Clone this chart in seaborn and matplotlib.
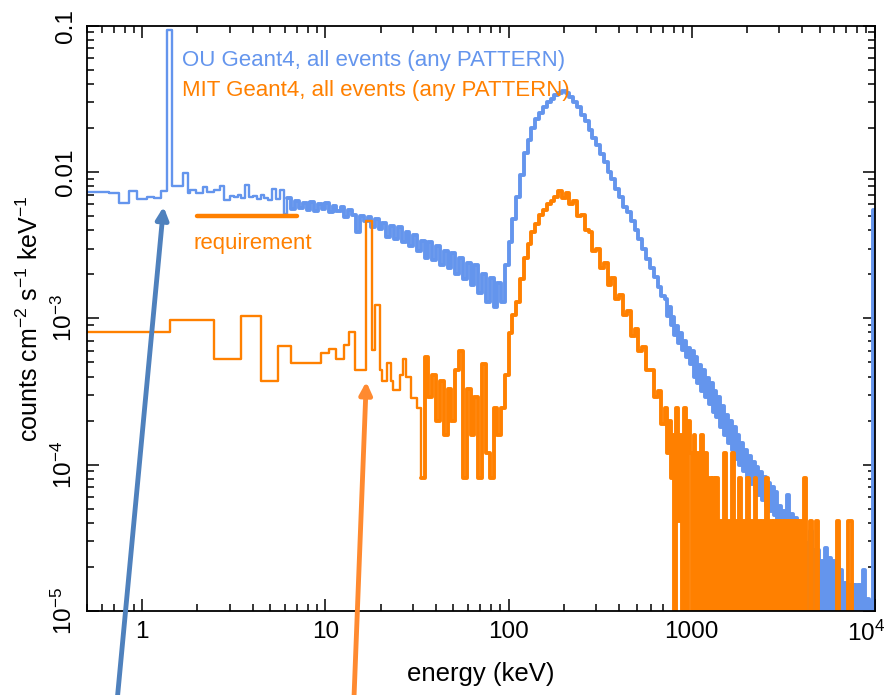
import numpy as np
import matplotlib
matplotlib.use("Agg")
import matplotlib.pyplot as plt
import matplotlib.transforms as mtransforms
import seaborn as sns

# OU Geant4 spectrum: wide low-energy bins (left edges, keV) and values
ou_low_e = [0.5, 0.656, 0.745, 0.845, 0.94, 1.065, 1.16, 1.26, 1.36, 1.46,
            1.66, 1.77, 1.83, 1.96, 2.14, 2.27, 2.48, 2.67, 2.81]
ou_low_v = [7.34e-3, 7.15e-3, 6.18e-3, 7.4e-3, 6.55e-3, 6.78e-3, 6.6e-3, 7.4e-3, 0.093, 8.0e-3,
            9.9e-3, 7.2e-3, 7.5e-3, 7.15e-3, 7.86e-3, 7.3e-3, 7.5e-3, 8.0e-3, 6.44e-3]

# medium energy grid, 3 - 715 keV (left bin edges)
grid_e = [3.01, 3.16, 3.32, 3.48, 3.65, 3.83, 4.02, 4.22, 4.43, 4.65, 4.88, 5.12, 5.37,
          5.64, 5.92, 6.21, 6.52, 6.84, 7.18, 7.53, 7.90, 8.29, 8.70, 9.13, 9.58,
          10.0, 10.5, 11.0, 11.5, 12.1, 12.7, 13.3, 14.0, 14.7, 15.4, 16.2, 17.0, 17.8, 18.7,
          19.6, 20.5, 21.5, 22.6, 23.7, 24.9, 26.1, 27.4, 28.7, 30.1, 31.6, 33.2, 34.8, 36.5,
          38.3, 40.2, 42.2, 44.3, 46.5, 48.8, 51.2, 53.7, 56.4, 59.2, 62.1, 65.2, 68.4, 71.8,
          75.3, 79.0, 82.9, 87.0, 91.3, 95.8,
          100, 105, 110, 115, 121, 127, 133, 140, 147, 154, 162, 170, 178, 187, 196, 205, 215,
          226, 237, 249, 261, 274, 287, 301, 316, 332, 348, 365, 383, 402, 422, 443, 465, 488,
          512, 537, 564, 592, 621, 652, 684]

# fine grid for the high-energy tail (left bin edges, keV)
tail_e = [715, 732, 750, 768, 787, 806, 826, 846, 866, 887,
          909, 931, 953, 977, 1000, 1024, 1049, 1075, 1101, 1127,
          1155, 1183, 1212, 1241, 1271, 1302, 1334, 1366, 1399, 1433,
          1468, 1504, 1540, 1578, 1616, 1655, 1696, 1737, 1778, 1822,
          1866, 1911, 1957, 2005, 2054, 2104, 2154, 2207, 2260, 2315,
          2371, 2429, 2488, 2548, 2610, 2674, 2738, 2805, 2873, 2943,
          3014, 3087, 3162, 3239, 3318, 3398, 3481, 3565, 3652, 3741,
          3831, 3924, 4020, 4117, 4217, 4320, 4425, 4532, 4642, 4755,
          4870, 4989, 5109, 5234, 5361, 5491, 5623, 5760, 5900, 6043,
          6190, 6340, 6494, 6652, 6813, 6979, 7149, 7322, 7500, 7682,
          7869, 8060, 8255, 8456, 8661, 8872, 9087, 9308, 9534, 9765]

ou_grid_v = [6.9e-3, 6.7e-3, 7.0e-3, 6.6e-3, 8.1e-3, 6.8e-3, 6.9e-3, 6.5e-3, 7.0e-3, 6.6e-3,
             6.4e-3, 7.7e-3, 6.5e-3, 7.5e-3, 5.2e-3, 6.6e-3, 5.6e-3, 6.3e-3, 5.7e-3, 6.1e-3,
             5.5e-3, 6.2e-3, 5.4e-3, 6.0e-3, 5.6e-3,
             6.1e-3, 5.3e-3, 5.9e-3, 5.4e-3, 5.8e-3, 4.9e-3, 5.5e-3, 5.1e-3, 3.9e-3, 5.0e-3,
             4.6e-3, 4.9e-3, 4.2e-3, 4.8e-3, 4.1e-3, 4.5e-3, 3.6e-3, 4.3e-3, 3.5e-3, 4.2e-3,
             3.3e-3, 3.9e-3, 3.1e-3, 3.7e-3, 2.9e-3, 3.4e-3, 2.6e-3, 3.3e-3, 2.5e-3, 3.1e-3,
             2.3e-3, 2.9e-3, 2.2e-3, 2.8e-3, 2.0e-3, 2.6e-3, 1.85e-3, 2.4e-3, 1.7e-3, 2.3e-3,
             1.5e-3, 2.0e-3, 1.3e-3, 1.9e-3, 1.2e-3, 1.75e-3, 1.3e-3, 2.3e-3,
             3.3e-3, 4.8e-3, 6.8e-3, 9.5e-3, 0.0135, 0.0165, 0.0200, 0.0230, 0.0255, 0.0280,
             0.0300, 0.0318, 0.0335, 0.0345, 0.0358, 0.0345, 0.0328, 0.0300, 0.0278, 0.0245,
             0.0222, 0.0195, 0.0172, 0.0154, 0.0133, 0.0117, 0.0100, 8.9e-3, 7.6e-3, 6.8e-3,
             5.8e-3, 5.3e-3, 4.6e-3, 4.0e-3, 3.5e-3, 3.0e-3, 2.56e-3, 2.2e-3, 1.91e-3, 1.64e-3,
             1.42e-3]

ou_tail_v = [1.36e-3, 1.04e-3, 1.19e-3, 9.0e-4, 1.02e-3, 7.7e-4, 8.8e-4, 6.8e-4, 7.9e-4, 6.1e-4,
             7.0e-4, 5.4e-4, 6.3e-4, 4.9e-4, 6.0e-4, 4.0e-4, 5.4e-4, 3.6e-4, 4.8e-4, 3.2e-4,
             4.4e-4, 2.9e-4, 3.9e-4, 2.6e-4, 3.6e-4, 2.3e-4, 3.2e-4, 2.1e-4, 2.9e-4, 1.8e-4,
             2.5e-4, 1.6e-4, 2.2e-4, 1.4e-4, 2.0e-4, 1.25e-4, 1.8e-4, 1.1e-4, 1.6e-4, 1.0e-4,
             1.4e-4, 9.0e-5, 1.25e-4, 8.0e-5, 1.15e-4, 7.4e-5, 1.05e-4, 6.7e-5, 9.6e-5, 6.2e-5,
             8.9e-5, 5.7e-5, 8.2e-5, 5.2e-5, 7.5e-5, 4.8e-5, 7.0e-5, 4.5e-5, 6.5e-5, 4.2e-5,
             5.2e-5, 3.6e-5, 4.8e-5, 3.4e-5, 6.2e-5, 3.3e-5, 4.6e-5, 3.2e-5, 4.3e-5, 3.0e-5,
             3.9e-5, 0, 3.4e-5, 0, 2.9e-5, 0, 3.5e-5, 0, 2.6e-5, 0,
             2.6e-5, 0, 2.2e-5, 0, 2.7e-5, 0, 2.3e-5, 0, 2.2e-5, 0,
             2.0e-5, 0, 1.9e-5, 0, 1.55e-5, 0, 1.5e-5, 0, 1.5e-5, 0,
             1.5e-5, 0, 1.5e-5, 0, 1.9e-5, 0, 1.2e-5, 0, 1.15e-5, 0]

# overflow bin at the top end
ou_last_e = [9830, 10000]
ou_last_v = [5.5e-3]

# MIT Geant4 spectrum: wide low-energy bins, then the grids from 33 keV
mit_low_e = [0.5, 1.41, 2.45, 3.47, 4.47, 5.52, 6.48, 9.47, 10.5, 11.5, 12.6, 13.5, 14.6,
             16.6, 17.9, 18.6, 19.8, 20.4, 21.6, 22.7, 23.5, 25.4, 26.4, 27.4, 29.2, 31.7]
mit_low_v = [8.1e-4, 9.8e-4, 5.3e-4, 1.03e-3, 3.7e-4, 6.5e-4, 4.94e-4, 5.78e-4, 6.16e-4,
             5.3e-4, 6.6e-4, 8.1e-4, 4.44e-4, 4.6e-3, 6.1e-4, 1.24e-3, 4.44e-4, 3.7e-4,
             4.94e-4, 3.7e-4, 3.25e-4, 4.1e-4, 5.3e-4, 4.0e-4, 2.85e-4, 2.44e-4]
mit_grid_start = 33.2
mit_grid_v = [8.1e-5, 5.4e-4, 2.9e-4, 4.1e-4, 2.0e-4, 3.7e-4, 1.6e-4, 3.3e-4, 2.0e-4, 4.4e-4,
              6.0e-4, 8.1e-5, 3.3e-4, 1.6e-4, 2.9e-4, 8.1e-5, 4.9e-4, 1.2e-4, 8.1e-5, 2.45e-4,
              1.6e-4, 2.45e-4, 4.1e-4,
              7.9e-4, 1.05e-3, 1.3e-3, 1.85e-3, 2.6e-3, 3.2e-3, 3.9e-3, 4.4e-3, 5.1e-3, 5.5e-3,
              6.0e-3, 6.3e-3, 6.7e-3, 7.4e-3, 6.6e-3, 7.2e-3, 6.0e-3, 6.3e-3, 5.0e-3, 5.1e-3,
              4.0e-3, 3.9e-3, 2.9e-3, 3.0e-3, 2.2e-3, 2.4e-3, 1.7e-3, 1.9e-3, 1.35e-3, 1.45e-3,
              1.05e-3, 1.12e-3, 7.6e-4, 8.4e-4, 6.0e-4, 6.4e-4, 4.4e-4, 4.4e-4, 2.9e-4, 3.2e-4,
              1.9e-4]
mit_tail_v = [2.45e-4, 1.2e-4, 2.0e-4, 8.1e-5, 1.6e-4, 0, 2.45e-4, 4.1e-5, 1.6e-4, 0,
              2.45e-4, 0, 2.0e-4, 1.2e-4, 0, 1.6e-4, 0, 1.2e-4, 0, 1.6e-4,
              0, 1.2e-4, 0, 8.1e-5, 0, 8.1e-5, 0, 8.1e-5, 0, 4.1e-5,
              0, 1.2e-4, 0, 4.1e-5, 0, 1.2e-4, 0, 4.1e-5, 0, 8.1e-5,
              0, 4.1e-5, 0, 8.1e-5, 0, 4.1e-5, 0, 8.1e-5, 0, 4.1e-5,
              0, 4.1e-5, 0, 8.1e-5, 0, 4.1e-5, 0, 4.1e-5, 0, 4.1e-5,
              0, 4.1e-5, 0, 4.1e-5, 0, 4.1e-5, 0, 4.1e-5, 0, 4.1e-5,
              0, 4.1e-5, 0, 8.1e-5, 0, 0, 4.1e-5, 0, 0, 4.1e-5,
              0, 0, 0, 0, 0, 0, 0, 0, 0, 0,
              4.1e-5, 0, 0, 0, 0, 0, 4.1e-5, 4.1e-5, 0, 0,
              0, 0, 0, 0, 0, 0, 0, 0, 0, 0]

req_e = [2.0, 7.0]
req_level = 5e-3

ou_color = "#6495ed"
mit_color = "#ff8000"

sns.set_theme(style="ticks")
plt.rcParams["font.family"] = ["Liberation Sans", "DejaVu Sans"]
plt.rcParams["mathtext.fontset"] = "custom"
plt.rcParams["mathtext.rm"] = "Liberation Sans"
plt.rcParams["mathtext.it"] = "Liberation Sans:italic"
plt.rcParams["mathtext.bf"] = "Liberation Sans:bold"
plt.rcParams["axes.linewidth"] = 1.3
for key in ["axes.edgecolor", "xtick.color", "ytick.color", "text.color", "axes.labelcolor"]:
    plt.rcParams[key] = "black"

fig = plt.figure(figsize=(8.89, 6.95), dpi=100)
ax = fig.add_axes([0.098, 0.121, 0.886, 0.842])
ax.set_xscale("log")
ax.set_yscale("log")

# assemble step curves (last value repeated to close the final bin)
ou_e = ou_low_e + grid_e + tail_e + ou_last_e
ou_v = ou_low_v + ou_grid_v + ou_tail_v + ou_last_v
ou_y = list(np.clip(ou_v + [ou_v[-1]], 1e-7, None))  # empty bins drop off the bottom

k = grid_e.index(mit_grid_start)
mit_e = mit_low_e + grid_e[k:] + tail_e + [ou_last_e[0]]
mit_v = mit_low_v + mit_grid_v + mit_tail_v
mit_y = list(np.clip(mit_v + [mit_v[-1]], 1e-7, None))


def draw_spectrum(xs, ys, n_wide, color):
    # wide bins drawn thin, the dense noisy part heavier so it reads as a band
    sns.lineplot(x=xs[:n_wide + 1], y=ys[:n_wide + 1], drawstyle="steps-post", color=color,
                 linewidth=1.7, estimator=None, errorbar=None, ax=ax)
    sns.lineplot(x=xs[n_wide:], y=ys[n_wide:], drawstyle="steps-post", color=color,
                 linewidth=2.8, estimator=None, errorbar=None, ax=ax)


draw_spectrum(ou_e, ou_y, ou_e.index(6.21), ou_color)
draw_spectrum(mit_e, mit_y, len(mit_low_e), mit_color)
sns.lineplot(x=req_e, y=[req_level, req_level], color=mit_color, linewidth=3.2,
             solid_capstyle="round", estimator=None, errorbar=None, ax=ax)

ax.set_xlim(0.5, 1e4)
ax.set_ylim(1e-5, 0.1)

ax.set_xticks([1, 10, 100, 1000, 1e4])
ax.set_xticklabels(["1", "10", "100", "1000", r"$10^{4}$"])
ax.set_yticks([1e-5, 1e-4, 1e-3, 1e-2, 1e-1])
ax.set_yticklabels([r"$10^{-5}$", r"$10^{-4}$", r"$10^{-3}$", "0.01", "0.1"])
ax.tick_params(which="both", direction="in", top=True, right=True, width=1.1)
ax.tick_params(which="major", length=8.5, labelsize=17.5, pad=7)
ax.tick_params(which="minor", length=4.8)
for lab in ax.get_yticklabels():
    lab.set_rotation(90)
    lab.set_va("center")
last = ax.get_xticklabels()[-1]
last.set_transform(last.get_transform() +
                   mtransforms.ScaledTranslation(-6 / 72, 0, fig.dpi_scale_trans))

ax.set_xlabel("energy (keV)", fontsize=18.5)
ax.set_ylabel(r"counts cm$^{-2}$ s$^{-1}$ keV$^{-1}$", fontsize=18)
ax.xaxis.set_label_coords(0.5, -0.088)
ax.yaxis.set_label_coords(-0.056, 0.5)

ax.text(0.1206, 0.9304, "OU Geant4, all events (any PATTERN)", transform=ax.transAxes,
        color=ou_color, fontsize=16, va="baseline")
ax.text(0.1206, 0.8791, "MIT Geant4, all events (any PATTERN)", transform=ax.transAxes,
        color=mit_color, fontsize=16, va="baseline")
ax.text(4.0, 2.98e-3, "requirement", color=mit_color, fontsize=16, ha="center", va="baseline")

ax.annotate("", xy=(0.184, 0.7026), xycoords="figure fraction",
            xytext=(0.1316, -0.01), textcoords="figure fraction",
            arrowprops=dict(arrowstyle="-|>", color="#4f81bd", lw=3.5, mutation_scale=18,
                            shrinkA=0, shrinkB=0),
            annotation_clip=False, zorder=10)
ax.annotate("", xy=(0.412, 0.4508), xycoords="figure fraction",
            xytext=(0.398, -0.01), textcoords="figure fraction",
            arrowprops=dict(arrowstyle="-|>", color="#ff8a30", lw=3.5, mutation_scale=18,
                            shrinkA=0, shrinkB=0),
            annotation_clip=False, zorder=10)

fig.savefig("out.png", dpi=100)
